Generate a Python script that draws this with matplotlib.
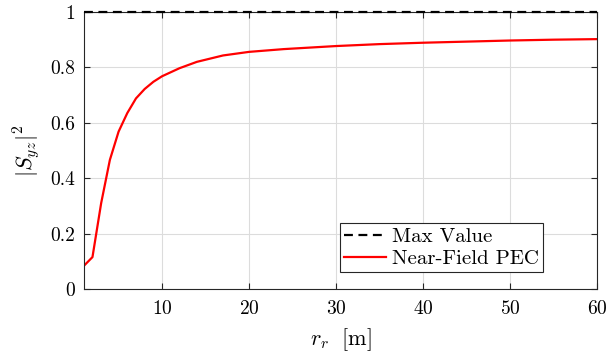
import matplotlib
matplotlib.use('Agg')
import matplotlib.pyplot as plt

plt.rcParams['font.family'] = 'serif'
plt.rcParams['font.serif'] = ['cmr10']
plt.rcParams['mathtext.fontset'] = 'cm'
plt.rcParams['axes.formatter.use_mathtext'] = True

# values
r_r = [1, 2, 3, 4, 5, 6, 7, 8, 9, 10, 12, 14, 17, 20, 24, 30, 35, 40, 45, 50, 55, 60]
s_yz = [0.083, 0.115, 0.31, 0.466, 0.568, 0.635, 0.688, 0.722, 0.748, 0.768,
        0.797, 0.82, 0.843, 0.856, 0.866, 0.877, 0.884, 0.889, 0.893, 0.897, 0.9, 0.902]
max_value = [1.0] * len(r_r)

fig = plt.figure(figsize=(6.07, 3.63), dpi=100)
ax = fig.add_axes([0.138, 0.204, 0.846, 0.763])

ax.plot(r_r, max_value, '--', color='k', lw=1.6, dashes=(4, 2.5), label='Max Value',
        clip_on=False, zorder=5)
ax.plot(r_r, s_yz, '-', color='r', lw=1.6, label='Near-Field PEC')

ax.set_xlim(1, 60)
ax.set_ylim(0, 1)
ax.set_xticks([10, 20, 30, 40, 50, 60])
ax.set_yticks([0, 0.2, 0.4, 0.6, 0.8, 1])
ax.set_yticklabels(['0', '0.2', '0.4', '0.6', '0.8', '1'])
ax.grid(True, color='#dcdcdc', lw=0.8)
ax.set_axisbelow(True)
for sp in ax.spines.values():
    sp.set_color('#262626')
    sp.set_linewidth(0.8)
ax.tick_params(direction='in', top=True, right=True, labelsize=14,
               colors='#262626', length=4)
ax.tick_params(axis='x', pad=8)
ax.tick_params(axis='y', pad=6)
for lbl in ax.get_xticklabels() + ax.get_yticklabels():
    lbl.set_color('black')

ax.set_xlabel(r'$r_r\ \ [\mathrm{m}]$', fontsize=16, labelpad=6)
ax.set_ylabel(r'$|S_{yz}|^2$', fontsize=16, labelpad=6)

leg = ax.legend(loc='lower left', bbox_to_anchor=(0.499, 0.061), fontsize=15,
                handlelength=2.0, handletextpad=0.3, borderpad=0.2,
                labelspacing=0.15, fancybox=False, framealpha=1, borderaxespad=0)
leg.get_frame().set_edgecolor('#262626')
leg.get_frame().set_linewidth(0.8)

fig.savefig('out.png', dpi=100)
